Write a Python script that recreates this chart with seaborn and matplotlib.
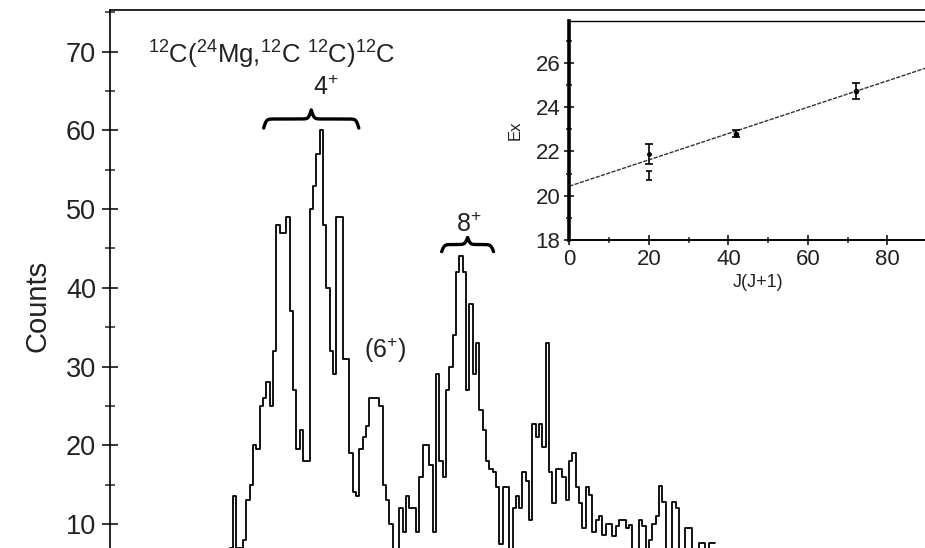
import numpy as np
import pandas as pd
import matplotlib
matplotlib.use("Agg")
import matplotlib.pyplot as plt
import seaborn as sns

# spectrum (counts per channel, first channel = 36)
first_channel = 36
counts = [7, 13.5, 7, 7, 8, 13, 15, 20, 19.5, 25,
          26, 28, 25, 32, 48, 47, 47, 49, 37, 27,
          19.5, 22, 18, 18, 50, 53, 57, 60, 48, 40,
          32, 29, 49, 49, 31, 31, 19, 14, 13.5, 19.5,
          21, 22.5, 26, 26, 26, 25, 15, 13, 10, 6,
          6, 12, 9, 13.5, 12, 12, 9, 16, 20, 20,
          17.5, 9, 29, 18, 16, 27, 30, 34, 42, 44,
          42, 27, 38, 29, 33, 24.5, 22, 18, 17, 16.6,
          14.7, 7.5, 14.7, 14.7, 5, 12, 13.5, 12, 16.6, 15.5,
          10.5, 22.7, 21, 22.7, 19.8, 33, 16.6, 12.7, 17, 17,
          16, 13, 18, 19, 14.7, 12.7, 9.5, 14.7, 13.7, 9,
          10.5, 11, 8.6, 10, 10, 8.5, 9.7, 10.5, 10.5, 9.5,
          9.9, 5, 5, 10.5, 9.7, 6, 8, 10, 11, 14.8,
          12.8, 5, 5, 12.8, 12, 5, 5, 9.5, 9.5, 5,
          5, 7.6, 7.6, 5, 7.6, 7.6]

# inset: Ex vs J(J+1)
jj = [20, 20, 42, 72]
ex = [21.9, 20.92, 22.8, 24.72]
ex_err = [0.45, 0.2, 0.15, 0.35]
fit_x = [0, 95]
fit_y = [20.43, 26.08]

channels = np.arange(len(counts)) + first_channel
spec = pd.DataFrame({"channel": channels, "counts": counts})

sns.set_theme(style="ticks")
plt.rcParams["font.family"] = ["Liberation Sans", "DejaVu Sans"]
plt.rcParams["mathtext.fontset"] = "custom"
plt.rcParams["mathtext.rm"] = "Liberation Sans"
plt.rcParams["mathtext.it"] = "Liberation Sans:italic"

fig = plt.figure(figsize=(9.25, 5.48), dpi=100)
ax = fig.add_axes([0.1189, -0.0998, 0.8811, 1.0816])

sns.histplot(data=spec, x="channel", weights="counts", discrete=True,
             element="step", fill=False, color="black", linewidth=1.3, ax=ax)

ax.set_xlim(-0.5, 244.5)
ax.set_ylim(0, 75.3)
ax.set_yticks(range(10, 71, 10))
ax.set_yticks(range(5, 76, 10), minor=True)
ax.tick_params(axis="y", which="major", direction="inout", length=12, width=1.1,
               labelsize=19.5, pad=4, colors="black", labelcolor="#222222")
ax.tick_params(axis="y", which="minor", direction="inout", length=7, width=1.1)
ax.tick_params(axis="x", bottom=False, labelbottom=False)
ax.set_xlabel("")
ax.set_ylabel("Counts", fontsize=21, labelpad=10, color="#222222")
ax.spines["right"].set_visible(False)
for s in ["left", "top", "bottom"]:
    ax.spines[s].set_linewidth(1.2)
    ax.spines[s].set_color("black")


def brace(ax, x0, x1, y0, h, beta=2.5, lw=2.4):
    n = 301
    x = np.linspace(x0, x1, n)
    xh = x[: n // 2 + 1]
    yh = 1 / (1 + np.exp(-beta * (xh - xh[0]))) + 1 / (1 + np.exp(-beta * (xh - xh[-1])))
    y = np.concatenate((yh, yh[-2::-1]))
    ax.plot(x, y0 + (y - 0.5) * h, color="black", lw=lw, solid_capstyle="round")


ax.text(48.1, 69.6, r"$^{12}$C($^{24}$Mg,$^{12}$C $^{12}$C)$^{12}$C",
        ha="center", va="center", fontsize=18.5, color="#222222")
ax.text(64.3, 65.4, r"4$^{+}$", ha="center", va="center", fontsize=18, color="#222222")
brace(ax, 45.7, 74.3, 60.3, 2.3)
ax.text(107.3, 48.0, r"8$^{+}$", ha="center", va="center", fontsize=18, color="#222222")
brace(ax, 99.2, 114.8, 44.6, 1.8)
ax.text(82.1, 32.1, r"(6$^{+}$)", ha="center", va="center", fontsize=18, color="#222222")

# inset
ins = fig.add_axes([0.6155, 0.562, 0.4084, 0.4002])
sns.lineplot(x=fit_x, y=fit_y, color="#333333", lw=1.0, ax=ins,
             linestyle=(0, (3, 1)))
ins.errorbar(jj[:1], ex[:1], yerr=ex_err[:1], fmt="o", ms=2.5, color="black",
             capsize=3, elinewidth=1.2, capthick=1.2)
ins.errorbar(jj[1:2], ex[1:2], yerr=ex_err[1:2], fmt="none", color="black",
             capsize=2.5, elinewidth=1.2, capthick=1.2)
ins.errorbar(jj[2:], ex[2:], yerr=ex_err[2:], fmt="o", ms=3, color="black",
             capsize=3, elinewidth=1.2, capthick=1.2)
ins.set_xlim(0, 95)
ins.set_ylim(18, 27.9)
ins.set_xticks([0, 20, 40, 60, 80])
ins.set_xticks([10, 30, 50, 70, 90], minor=True)
ins.set_yticks([18, 20, 22, 24, 26])
ins.set_yticks([19, 21, 23, 25, 27], minor=True)
ins.tick_params(which="major", direction="inout", length=7, width=1.1,
                labelsize=16, pad=3, colors="black", labelcolor="#222222")
ins.tick_params(which="minor", direction="inout", length=5, width=1.1)
ins.set_xlabel("J(J+1)", fontsize=13, labelpad=3, color="#222222")
ins.set_ylabel("Ex", fontsize=12, labelpad=9, color="#222222")
ins.spines["right"].set_visible(False)
ins.spines["left"].set_linewidth(2.6)
ins.spines["bottom"].set_linewidth(1.4)
ins.spines["top"].set_linewidth(1.0)
for s in ["left", "top", "bottom"]:
    ins.spines[s].set_color("black")

fig.savefig("out.png", dpi=100)
